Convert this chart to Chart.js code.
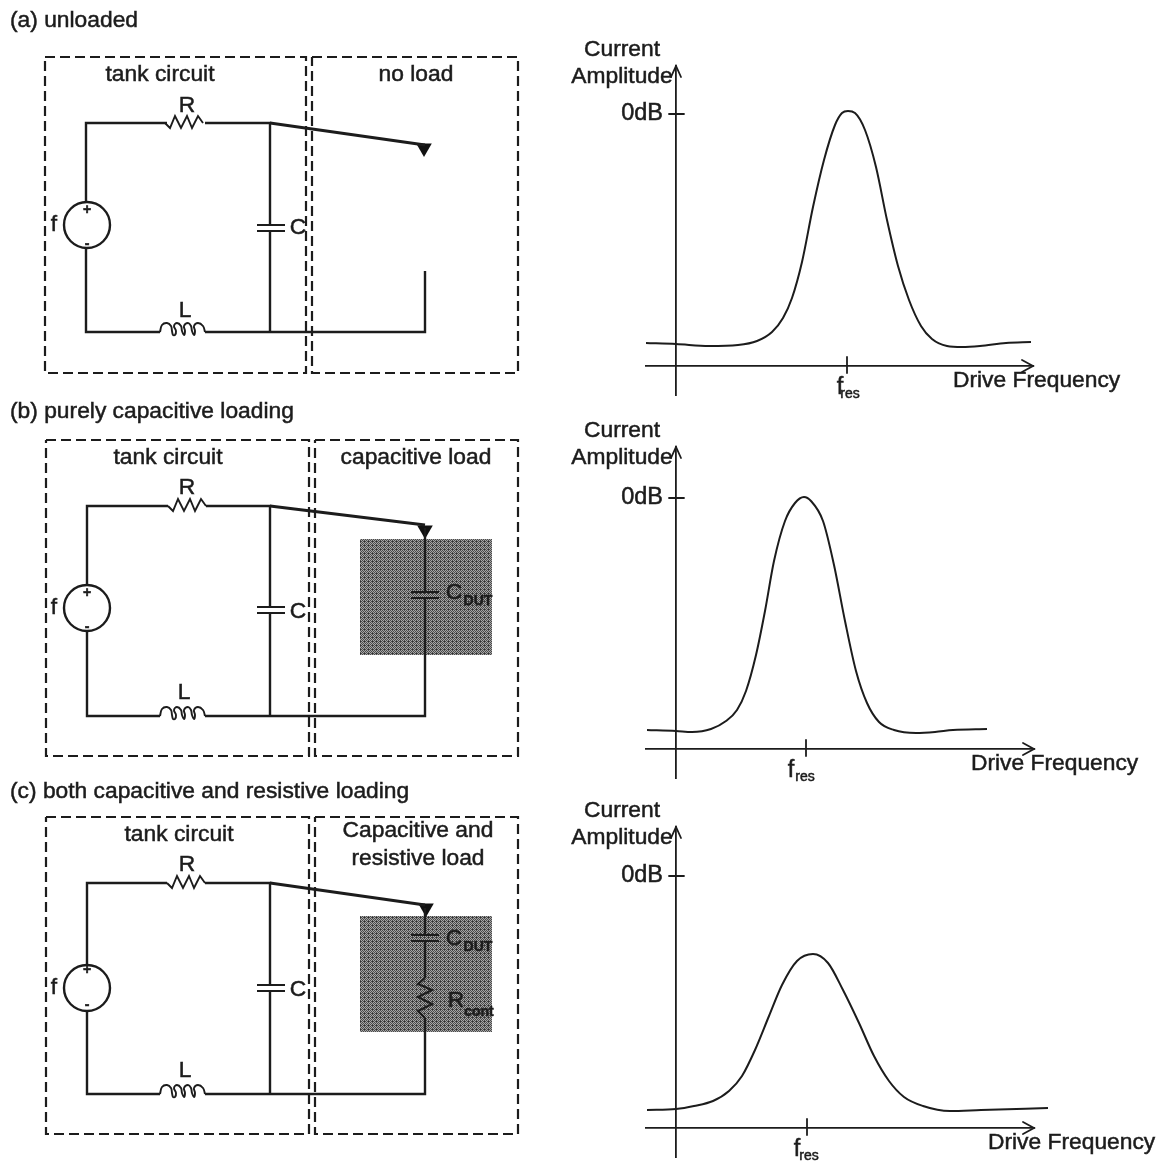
<!DOCTYPE html>
<html><head><meta charset="utf-8">
<script src="https://cdn.jsdelivr.net/npm/chart.js@4"></script>
<style>
html,body{margin:0;padding:0;background:#fff;width:1161px;height:1163px;overflow:hidden}
canvas{position:absolute;display:block;filter:blur(.45px)}
</style></head><body>
<canvas id="schematic" style="left:0;top:0" width="560" height="1163"></canvas>
<canvas id="respA"></canvas>
<canvas id="respB"></canvas>
<canvas id="respC"></canvas>
<script>
/* ---------- Response curves: drive frequency vs current amplitude ---------- */
const freqA = [-30,0,33,62,81,96,107,116,126,137,148,159,166,172,179,189,200,211,222,233,245,256,271,286,304,330,355];
const ampA  = [23,22,20,21,25,34,48,68,104,159,206,241,253,255,253,236,199,146,100,66,40,27,20,19,20,23,24];
const freqB = [-29,0,16,35,50,61,70,80,89,98,109,119,128,135,147,158,169,180,191,203,218,240,259,277,311];
const ampB  = [19,18,17,20,28,39,58,94,138,188,228,246,252,248,228,184,128,78,46,27,19,16,17,19,20];
const freqC = [-29,0,18,37,53,66,79,93,106,121,137,152,167,183,198,213,228,247,274,305,372];
const ampC  = [18,19,22,27,37,52,78,112,143,167,174,165,138,105,72,47,31,22,17,18,20];
const resonanceTicks = [171,130,131];
const zeroDbTicks = [252,251,252];
const xTickLabels = ['f'];
const yTickLabels = ['0dB'];

/* ---------- Schematic drawing units ---------- */
const resistorShape = [[0,0],[5,5],[10,-7],[16,5],[22,-7],[27,5],[33,-7],[38,0]];
const coilShape = [[0,0],[2,-7],[7,-9],[11,-6],[12,-1],[13,3],[15,3],[16,-1],[14,-6],[17,-9],[21,-6],[22,-1],[24,3],[25,-1],[24,-6],[28,-9],[31,-6],[32,-1],[34,3],[35,-1],[34,-6],[38,-9],[43,-6],[45,0]];
const dashedBoxes = [
 [[45,57],[306,57],[306,373],[45,373],[45,57]],
 [[312,57],[518,57],[518,373],[312,373],[312,57]],
 [[46,440],[309,440],[309,756],[46,756],[46,440]],
 [[315,440],[518,440],[518,756],[315,756],[315,440]],
 [[46,817],[309,817],[309,1134],[46,1134],[46,817]],
 [[315,817],[518,817],[518,1134],[315,1134],[315,817]]
];
const wires = [
 [[86,203],[86,123],[167,123]],[[205,123],[270,123],[270,225]],[[270,231],[270,332]],
 [[86,248],[86,332],[160,332]],[[205,332],[425,332],[425,271]],
 [[87,585],[87,506],[168,506]],[[206,506],[270,506],[270,607]],[[270,613],[270,716]],
 [[87,631],[87,716],[160,716]],[[205,716],[425,716],[425,598]],[[425,528],[425,592]],
 [[87,965],[87,883],[167,883]],[[205,883],[270,883],[270,985]],[[270,991],[270,1094]],
 [[87,1011],[87,1094],[160,1094]],[[205,1094],[425,1094],[425,1018]],[[425,908],[425,935]],[[425,941],[425,978]]
];
const switchArms = [[[270,123],[425,145]],[[270,506],[425,525]],[[270,883],[425,905]]];
const capPlates = [
 [[257,225],[285,225]],[[257,231],[285,231]],
 [[257,607],[285,607]],[[257,613],[285,613]],
 [[257,985],[285,985]],[[257,991],[285,991]],
 [[411,592],[439,592]],[[411,598],[439,598]],
 [[411,935],[439,935]],[[411,941],[439,941]]
];
const resistorSites = [[165,123],[168,506],[167,883]];
const coilSites = [[160,332],[160,716],[160,1094]];
const loadResistor = [[425,978],[418,984],[432,990],[418,997],[432,1004],[418,1011],[425,1018]];
const loadRegions = [
 [[360,539],[492,539],[492,655],[360,655],[360,539]],
 [[360,916],[492,916],[492,1032],[360,1032],[360,916]]
];
const sources = [{x:87,y:225},{x:87,y:608},{x:87,y:988}];
const contacts = [{x:424,y:148},{x:425,y:530},{x:426,y:908}];
const schematicTexts = [
 ['(a) unloaded',10,21,'left'],['(b) purely capacitive loading',10,412,'left'],['(c) both capacitive and resistive loading',10,792,'left'],
 ['tank circuit',160,75],['no load',416,75],['tank circuit',168,458],['capacitive load',416,458],['tank circuit',179,835],['Capacitive and',418,831],['resistive load',418,859],
 ['R',187,106],['L',185,311],['C',298,228],['f',54,225],
 ['R',187,488],['L',184,693],['C',298,612],['f',54,608],
 ['R',187,865],['L',185,1071],['C',298,990],['f',54,988],
 ['C',454,593],['C',454,939],['R',456,1001]
];
const smallTexts = [
 ['+',87,210],['-',87,244],['+',87,593],['-',87,627],['+',87,970],['-',87,1005]
];
const subTexts = [['DUT',478,601],['DUT',478,947],['cont',479,1012]];

const FONT = '"Liberation Sans", Arial, sans-serif';
const INK = '#1c1c1c';
const place = (shape,[ox,oy]) => shape.map(([a,b]) => [ox+a,oy+b]);
const pts = line => line.map(([x,y]) => ({x,y}));

function ditherPattern(){
  const c=document.createElement('canvas');c.width=c.height=4;
  const g=c.getContext('2d');
  g.fillStyle='#a6a6a6';g.fillRect(0,0,4,4);
  g.fillStyle='#4a4a4a';
  [[0,0],[2,0],[1,1],[3,1],[0,2],[2,2],[1,3],[3,3]].forEach(([a,b])=>g.fillRect(a,b,1,1));
  g.fillStyle='#333';g.fillRect(0,1,1,1);
  return document.getElementById('schematic').getContext('2d').createPattern(c,'repeat');
}
const line = (data,width,extra={}) => ({data:pts(data),showLine:true,pointRadius:0,borderColor:INK,borderWidth:width,tension:0,clip:false,order:1,...extra});

const schematicDatasets = [
 ...dashedBoxes.map(b=>line(b,2.2,{borderDash:[10,5]})),
 ...wires.map(w=>line(w,2.4)),
 ...switchArms.map(w=>line(w,3)),
 ...capPlates.map(w=>line(w,2)),
 ...resistorSites.map(s=>line(place(resistorShape,s),1.9)),
 ...coilSites.map(s=>line(place(coilShape,s),1.9,{tension:.4})),
 line(loadResistor,2.2),
 ...loadRegions.map(r=>({data:pts(r),showLine:true,pointRadius:0,borderWidth:0,fill:'shape',backgroundColor:ditherPattern(),order:9})),
 {data:sources,pointStyle:'circle',pointRadius:23,pointBorderWidth:2.4,pointBorderColor:INK,pointBackgroundColor:'#fff',showLine:false,order:1},
 {data:contacts,pointStyle:'triangle',pointRotation:180,pointRadius:9,pointBorderWidth:0,pointBackgroundColor:'#111',showLine:false,order:1}
];

const inked = (ctx,t,a,b) => {ctx.fillText(t,a,b);ctx.strokeText(t,a,b);};
const schematicTextPlugin = {id:'schematicText',afterDatasetsDraw(chart){
  const {ctx,scales:{x,y}}=chart;
  ctx.save();ctx.fillStyle=INK;ctx.strokeStyle=INK;ctx.lineWidth=.5;ctx.textBaseline='middle';
  const put=(list,font)=>{ctx.font=font;list.forEach(([t,a,b,al])=>{ctx.textAlign=al||'center';inked(ctx,t,x.getPixelForValue(a),y.getPixelForValue(b));});};
  put(schematicTexts,`22.8px ${FONT}`);
  put(smallTexts,`bold 14px ${FONT}`);
  put(subTexts,`bold 14px ${FONT}`);
  ctx.restore();
}};

new Chart(document.getElementById('schematic'),{
  type:'scatter',
  data:{datasets:schematicDatasets},
  plugins:[schematicTextPlugin],
  options:{responsive:false,animation:false,events:[],layout:{padding:0,autoPadding:false},
    plugins:{legend:{display:false},tooltip:{enabled:false}},
    scales:{x:{type:'linear',min:0,max:560,display:false},y:{type:'linear',min:0,max:1163,reverse:true,display:false}}}
});

/* ---------- Response plots ---------- */
const responseDecor = {id:'responseDecor',afterDatasetsDraw(chart,_a,o){
  const {ctx,chartArea:ca,scales:{x,y}}=chart;
  const ax=x.getPixelForValue(0), ay=y.getPixelForValue(0);
  const tx=x.getPixelForValue(o.fres), ty=y.getPixelForValue(o.zero);
  ctx.save();ctx.strokeStyle=INK;ctx.fillStyle=INK;ctx.lineWidth=1.8;ctx.lineCap='round';
  ctx.beginPath();
  ctx.moveTo(tx,ay-9);ctx.lineTo(tx,ay+7);
  ctx.moveTo(ax-7,ty);ctx.lineTo(ax+8,ty);
  ctx.moveTo(ax-5,ca.top+11);ctx.lineTo(ax,ca.top);ctx.lineTo(ax+5,ca.top+11);
  ctx.moveTo(ca.right-11,ay-6);ctx.lineTo(ca.right,ay);ctx.lineTo(ca.right-11,ay+6);
  ctx.stroke();
  ctx.lineWidth=.5;
  ctx.textBaseline='middle';ctx.textAlign='center';ctx.font=`14px ${FONT}`;
  inked(ctx,'res',tx+o.resShift,ay+28);
  ctx.font=`22.8px ${FONT}`;
  inked(ctx,'Current',ax-54,ca.top-16);
  inked(ctx,'Amplitude',ax-54,ca.top+11);
  ctx.textAlign='left';
  inked(ctx,'Drive Frequency',ax+o.driveX,ay+15);
  ctx.restore();
}};
const noScalePadding = s => {s.paddingTop=s.paddingBottom=s.paddingLeft=s.paddingRight=0;};

function response(id,top,height,axisY,xs,ys,yMax,tickX,tickY,xMax,driveX,fOffset,resShift){
  const cv=document.getElementById(id);
  cv.width=601;cv.height=height;cv.style.left='560px';cv.style.top=top+'px';
  const left=646-560, right=560+601-(676+xMax);
  const areaTop=axisY-yMax-top, areaBottom=top+height-(axisY+29);
  const tickFont={family:FONT,size:23.5};
  new Chart(cv,{
    type:'scatter',
    data:{datasets:[{data:xs.map((x,i)=>({x,y:ys[i]})),showLine:true,pointRadius:0,borderColor:INK,borderWidth:2,cubicInterpolationMode:'monotone',clip:false}]},
    plugins:[responseDecor],
    options:{responsive:false,animation:false,events:[],
      layout:{autoPadding:false,padding:{left,right,top:areaTop,bottom:areaBottom}},
      plugins:{legend:{display:false},tooltip:{enabled:false},responseDecor:{fres:tickX,zero:tickY,driveX,resShift}},
      scales:{
        x:{type:'linear',min:-30,max:xMax,position:{y:0},
          afterBuildTicks(s){s.ticks=[{value:tickX}];},afterFit(s){s.height=0;noScalePadding(s);},
          grid:{display:false,drawTicks:false},border:{display:true,color:INK,width:1.8},
          ticks:{autoSkip:false,maxRotation:0,padding:7,labelOffset:fOffset,color:INK,font:tickFont,textStrokeColor:INK,textStrokeWidth:.5,callback:()=>xTickLabels[0]}},
        y:{type:'linear',min:-29,max:yMax,position:{x:0},
          afterBuildTicks(s){s.ticks=[{value:tickY}];},afterFit(s){s.width=0;noScalePadding(s);},
          grid:{display:false,drawTicks:false},border:{display:true,color:INK,width:1.8},
          ticks:{autoSkip:false,color:INK,font:tickFont,textStrokeColor:INK,textStrokeWidth:.5,callback:()=>yTickLabels[0]+'\u00a0\u00a0'}}
      }}
  });
}
response('respA',30,375,366,freqA,ampA,300,resonanceTicks[0],zeroDbTicks[0],357,277,-7,3);
response('respB',413,375,749,freqB,ampB,302,resonanceTicks[1],zeroDbTicks[1],358,295,-15,-1);
response('respC',790,373,1128,freqC,ampC,301,resonanceTicks[2],zeroDbTicks[2],358,312,-10,2);
</script>
</body></html>
